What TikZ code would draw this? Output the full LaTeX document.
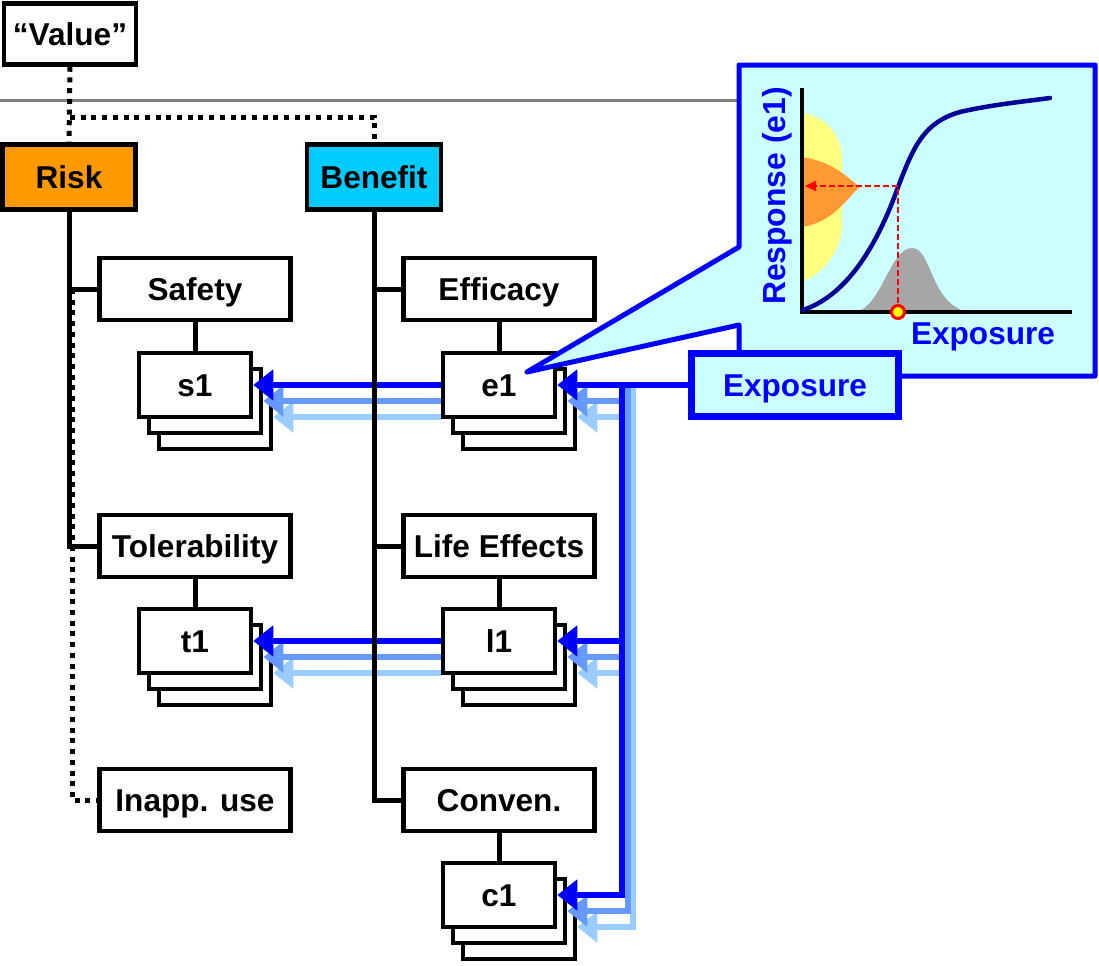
\documentclass[tikz,border=0pt]{standalone}
\usepackage{fontspec}
\setmainfont{Liberation Sans}
\usetikzlibrary{arrows.meta}
\definecolor{riskc}{HTML}{FF9900}
\definecolor{benc}{HTML}{00CCFF}
\definecolor{bD}{HTML}{0000FF}
\definecolor{bM}{HTML}{6699FF}
\definecolor{bL}{HTML}{99CCFF}
\definecolor{callc}{HTML}{CCFFFF}
\definecolor{yelc}{HTML}{FFFF80}
\definecolor{orac}{HTML}{FF9933}
\definecolor{grayd}{HTML}{A6A6A6}
\definecolor{navyc}{HTML}{000099}
\definecolor{redc}{HTML}{FF0000}
\definecolor{ylw}{HTML}{FFFF00}
\definecolor{rulec}{HTML}{808080}
\newcommand\bigf{\fontsize{31.7}{37}\selectfont\bfseries}
\newcommand\midf{\fontsize{32}{37}\selectfont\bfseries}
\newcommand\cardstack[4]{%
  \node[cbox] (#1c) at (#2+20,#3+32) {};
  \node[cbox] (#1b) at (#2+10,#3+16) {};
  \node[cbox] (#1) at (#2,#3) {#4};}
\begin{document}
\begin{tikzpicture}[x=1bp,y=-1bp,
  box/.style={draw=black, line width=4.5bp, fill=white, minimum width=191bp, minimum height=62bp, inner sep=0pt, font=\bigf, text height=28.5bp, text depth=6bp},
  cbox/.style={box, minimum width=112bp, minimum height=64bp},
  conn/.style={draw=black, line width=5bp},
  dotl/.style={draw=black, line width=5bp, dash pattern=on 5bp off 5.7bp},
  arrD/.style={draw=bD, line width=6bp, -{Triangle[length=20bp,width=30bp]}},
  arrM/.style={draw=bM, line width=6bp, -{Triangle[length=20bp,width=30bp]}},
  arrL/.style={draw=bL, line width=6bp, -{Triangle[length=20bp,width=30bp]}},
  expo/.style={draw=bD, fill=callc, line width=7bp, minimum width=207bp, minimum height=63bp, inner sep=0pt, font=\bigf, text=bD, text height=28.5bp, text depth=6bp},
  callout/.style={draw=bD, fill=callc, line width=5bp, line join=round},
  axis/.style={draw=black, line width=4.5bp},
  curve/.style={draw=navyc, line width=4.5bp, line cap=round},
  reddash/.style={draw=redc, line width=2bp, dash pattern=on 6bp off 3bp},
]
\useasboundingbox (0,0) rectangle (1099,966);

% horizontal rule
\coordinate (gl0) at (0,100);
\coordinate (gl1) at (740,100);
\draw[rulec, line width=3bp] (gl0) -- (gl1);

% top level boxes
\node[box, minimum width=132bp, minimum height=61bp] (value) at (70,34) {“Value”};
\node[box, fill=riskc, minimum width=133bp, minimum height=65bp] (risk) at (69,177) {Risk};
\node[box, fill=benc, minimum width=134bp, minimum height=65bp] (benefit) at (374,177) {Benefit};

% category boxes
\node[box] (safety) at (195,289) {Safety};
\node[box] (tol) at (195,546) {Tolerability};
\node[box] (inapp) at (195,800) {Inapp. use};
\node[box] (eff) at (499,289) {Efficacy};
\node[box] (life) at (499,546) {Life Effects};
\node[box] (conv) at (499,800) {Conven.};

% stacked cards
\cardstack{s1}{195}{385}{s1}
\cardstack{t1}{195}{641}{t1}
\cardstack{e1}{499}{385}{e1}
\cardstack{l1}{499}{641}{l1}
\cardstack{c1}{499}{895}{c1}

% callout
\coordinate (tip) at (527,372);
\filldraw[callout] (739,65) -- (1095,65) -- (1095,376) -- (739,376) -- (739,325) -- (tip) -- (739,247) -- cycle;

% Exposure node
\node[expo] (exp) at (795,385) {Exposure};

% blue arrows
\coordinate (vd) at (622,385);
\coordinate (vm) at (628,385);
\coordinate (vl) at (633,385);
% light
\draw[arrL] (e1.west |- e1c) -- (s1c.east);
\draw[arrL] (l1.west |- l1c) -- (t1c.east);
\draw[arrL] (vl |- e1c) -- (e1c.east);
\draw[arrL] (vl |- l1c) -- (l1c.east);
\draw[arrL] (vl) -- (vl |- c1c) -- (c1c.east);
% medium
\draw[arrM] (e1.west |- e1b) -- (s1b.east);
\draw[arrM] (l1.west |- l1b) -- (t1b.east);
\draw[arrM] (vm |- e1b) -- (e1b.east);
\draw[arrM] (vm |- l1b) -- (l1b.east);
\draw[arrM] (vm) -- (vm |- c1b) -- (c1b.east);
% dark
\draw[arrD] (e1.west) -- (s1.east);
\draw[arrD] (l1.west) -- (t1.east);
\draw[arrD] (exp.west) -- (e1.east);
\draw[arrD] (vd |- l1) -- (l1.east);
\draw[arrD] (vd) -- (vd |- c1) -- (c1.east);

% dotted links
\coordinate (dj) at (70,117);
\coordinate (rx) at (72,289);
\draw[dotl] (value.south) -- (risk.north);
\draw[dotl] (dj) -- (dj -| benefit.north) -- (benefit.north);
\draw[dotl] (rx) -- (rx |- inapp.west) -- (inapp.west);

% tree lines
\draw[conn] (risk.south) -- (risk.south |- tol.west) -- (tol.west);
\draw[conn] (risk.south |- safety.west) -- (safety.west);
\draw[conn] (benefit.south) -- (benefit.south |- conv.west) -- (conv.west);
\draw[conn] (benefit.south |- eff.west) -- (eff.west);
\draw[conn] (benefit.south |- life.west) -- (life.west);
\draw[conn] (safety.south) -- (s1.north);
\draw[conn] (tol.south) -- (t1.north);
\draw[conn] (eff.south) -- (e1.north);
\draw[conn] (life.south) -- (l1.north);
\draw[conn] (conv.south) -- (c1.north);

% chart: distributions
\fill[yelc] (802,113) .. controls (822,116) and (840,130) .. (842,157) -- (842,227) .. controls (840,255) and (820,275) .. (802,282) -- cycle;
\fill[orac] (802,157) .. controls (835,162) and (850,180) .. (860,187) .. controls (850,194) and (835,222) .. (802,227) -- cycle;
\fill[grayd] (856,312) .. controls (882,306) and (890,248) .. (912,248) .. controls (932,248) and (930,304) .. (968,312) -- cycle;
% axes
\draw[axis] (802,88) -- (802,312) -- (1072,312);
% curve
\draw[curve] (803,310) .. controls (845,296) and (875,250) .. (897,190)
  .. controls (914,144) and (925,122) .. (960,112)
  .. controls (990,105) and (1020,102) .. (1050,98);
% red projection
\coordinate (pt) at (898,312);
\coordinate (pc) at (898,186);
\coordinate (py) at (805,186);
\draw[reddash] (pt) -- (pc);
\draw[reddash, -{Triangle[length=11bp,width=10bp]}] (pc) -- (py);
\filldraw[fill=ylw, draw=redc, line width=3bp] (pt) circle[radius=6.5bp];
% chart labels
\node[rotate=90, font=\midf, text=bD, inner sep=0pt] (ylab) at (777,196) {Response (e1)};
\node[font=\bigf, text=bD, inner sep=0pt] (xlab) at (983,337) {Exposure};
\end{tikzpicture}
\end{document}
